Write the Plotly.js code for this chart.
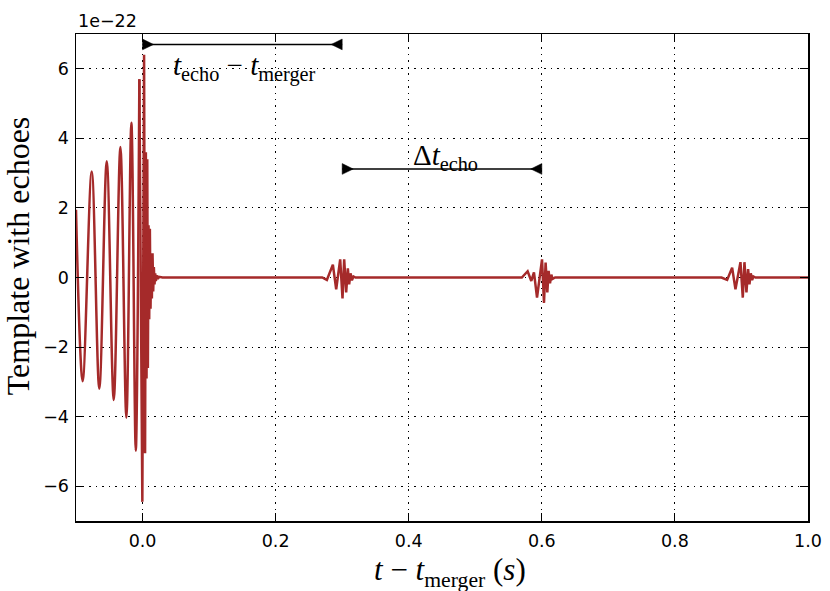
<!DOCTYPE html>
<html>
<head>
<meta charset="utf-8">
<script src="https://cdn.plot.ly/plotly-3.0.1.min.js"></script>
<style>html,body{margin:0;padding:0;background:#fff;}#chart{width:830px;height:591px;}</style>
</head>
<body>
<div id="chart"></div>
<script>
// Values in units of 1e-22 (strain), time in seconds relative to merger
// Inspiral chirp extrema
const chirpT = [-0.1000, -0.0900, -0.0764, -0.0650, -0.0538, -0.0433, -0.0333, -0.0243, -0.0168, -0.0102, -0.0048];
const chirpH = [1.95, -2.98, 3.05, -3.20, 3.34, -3.52, 3.75, -4.03, 4.45, -4.98, 5.70];
// Merger + ringdown extrema
const mergerT = [-0.0048, -0.0003, 0.0023, 0.0038, 0.0050, 0.0060, 0.0071, 0.0080, 0.0090, 0.0100, 0.0110, 0.0120, 0.0130, 0.0140, 0.0150, 0.0160, 0.0170, 0.0180, 0.0190, 0.0200, 0.0215, 0.0230, 0.0250, 0.0300];
const mergerH = [5.70, -6.45, 6.40, -5.05, 3.60, -2.90, 3.40, -2.60, 1.50, -1.20, 1.40, -0.90, 0.70, -0.60, 0.70, -0.40, 0.30, -0.20, 0.12, -0.10, 0.06, -0.04, 0.02, 0];
// Echoes
const echo1T = [0.2700, 0.2770, 0.2860, 0.2910, 0.2970, 0.3005, 0.3030, 0.3060, 0.3085, 0.3105, 0.3125, 0.3146, 0.3170, 0.3200];
const echo1H = [0, -0.07, 0.37, -0.34, 0.52, -0.60, 0.52, -0.43, 0.26, -0.20, 0.12, -0.08, 0.03, 0];
const echo2T = [0.5700, 0.5787, 0.5842, 0.5882, 0.5928, 0.6003, 0.6033, 0.6057, 0.6083, 0.6102, 0.6123, 0.6143, 0.6162, 0.6200];
const echo2H = [0, 0.18, -0.10, 0.15, -0.58, 0.52, -0.73, 0.43, -0.43, 0.19, -0.17, 0.08, -0.04, 0];
const echo3T = [0.8700, 0.8785, 0.8860, 0.8910, 0.8985, 0.9020, 0.9045, 0.9075, 0.9100, 0.9120, 0.9140, 0.9160, 0.9180, 0.9210];
const echo3H = [0, -0.07, 0.28, -0.34, 0.44, -0.58, 0.44, -0.43, 0.24, -0.20, 0.12, -0.07, 0.03, 0];
const endT = [1.0];
const endH = [0];

// Axis ticks
const xTicks = [0.0, 0.2, 0.4, 0.6, 0.8, 1.0];
const xTickText = ["0.0", "0.2", "0.4", "0.6", "0.8", "1.0"];
const yTicks = [-6, -4, -2, 0, 2, 4, 6];
const yTickText = ["\u22126", "\u22124", "\u22122", "0", "2", "4", "6"];

// Annotation arrows (interval markers)
const arrowX0 = [0.0, 0.3];
const arrowX1 = [0.3, 0.6];
const arrowY = [6.70, 3.12];

const lineColor = '#a52a2a';
const serif = 'Liberation Serif, Times New Roman, serif';
const sans = 'DejaVu Sans, sans-serif';

const restT = mergerT.concat(echo1T, echo2T, echo3T, endT);
const restH = mergerH.concat(echo1H, echo2H, echo3H, endH);

const traces = [
  {x: chirpT, y: chirpH, mode: 'lines', line: {color: lineColor, width: 2.5, shape: 'spline', smoothing: 1}, hoverinfo: 'skip', showlegend: false},
  {x: restT, y: restH, mode: 'lines', line: {color: lineColor, width: 2.5, shape: 'linear'}, hoverinfo: 'skip', showlegend: false}
];

const shapes = [];
arrowX0.forEach((x0, i) => {
  shapes.push({type: 'line', xref: 'x', yref: 'y', x0: x0, x1: arrowX1[i], y0: arrowY[i], y1: arrowY[i],
    line: {color: 'black', width: 1.6}});
  // inward-pointing arrow heads, sized in pixels
  shapes.push({type: 'path', xref: 'x', yref: 'y', xsizemode: 'pixel', ysizemode: 'pixel',
    xanchor: x0, yanchor: arrowY[i], path: 'M0,-5.4L11,0L0,5.4Z',
    fillcolor: 'black', line: {color: 'black', width: 0.5}});
  shapes.push({type: 'path', xref: 'x', yref: 'y', xsizemode: 'pixel', ysizemode: 'pixel',
    xanchor: arrowX1[i], yanchor: arrowY[i], path: 'M0,-5.4L-11,0L0,5.4Z',
    fillcolor: 'black', line: {color: 'black', width: 0.5}});
});

const axisCommon = {
  showline: true, linecolor: 'black', linewidth: 1.5, mirror: 'ticks',
  ticks: 'inside', ticklen: 8, tickwidth: 1, tickcolor: 'black',
  showgrid: true, gridcolor: 'black', gridwidth: 1, griddash: '1.5px,5px',
  zeroline: false, tickfont: {family: sans, size: 17.5, color: 'black'}
};

const layout = {
  width: 830, height: 591,
  margin: {l: 76, r: 22, t: 34, b: 70},
  paper_bgcolor: 'white', plot_bgcolor: 'white',
  showlegend: false,
  xaxis: Object.assign({}, axisCommon, {
    range: [-0.1, 1.0], tickmode: 'array', tickvals: xTicks, ticktext: xTickText, ticklabelstandoff: 3
  }),
  yaxis: Object.assign({}, axisCommon, {
    range: [-7, 7], tickmode: 'array', tickvals: yTicks, ticktext: yTickText, ticklabelstandoff: 2
  }),
  shapes: shapes,
  annotations: [
    {xref: 'paper', yref: 'paper', x: 0, y: 1, xanchor: 'left', yanchor: 'bottom', yshift: 1,
     text: '1e\u221222', showarrow: false, font: {family: sans, size: 17.5, color: 'black'}},
    // x-axis title
    {xref: 'paper', yref: 'paper', x: 0.405, y: -0.105, xanchor: 'left', yanchor: 'middle',
     text: '<i>t</i> \u2212 <i>t</i><sub>merger</sub> (<i>s</i>)', showarrow: false,
     font: {family: serif, size: 31, color: 'black'}},
    // y-axis title
    {xref: 'paper', yref: 'paper', x: -0.079, y: 0.544, xanchor: 'center', yanchor: 'middle', textangle: -90,
     text: 'Template with echoes', showarrow: false, font: {family: serif, size: 32, color: 'black'}},
    {xref: 'x', yref: 'y', x: 0.1526, y: 6.05, xanchor: 'center', yanchor: 'middle',
     text: '<i>t</i><sub>echo</sub> \u2212 <i>t</i><sub>merger</sub>', showarrow: false, font: {family: serif, size: 29, color: 'black'}},
    {xref: 'x', yref: 'y', x: 0.456, y: 3.45, xanchor: 'center', yanchor: 'middle',
     text: '\u0394<i>t</i><sub>echo</sub>', showarrow: false, font: {family: serif, size: 29, color: 'black'}}
  ]
};

Plotly.newPlot('chart', traces, layout, {displayModeBar: false, staticPlot: true});
</script>
</body>
</html>
